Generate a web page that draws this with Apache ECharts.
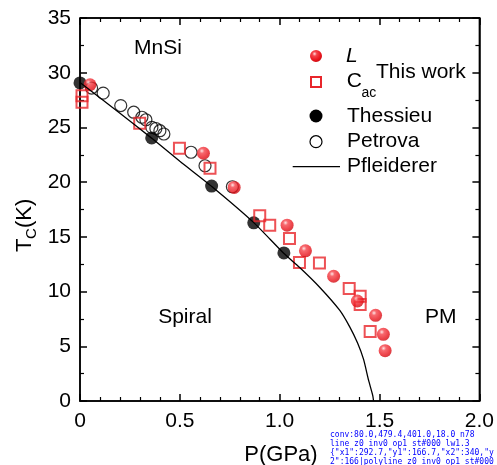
<!DOCTYPE html>
<html><head><meta charset="utf-8">
<script src="https://cdn.jsdelivr.net/npm/echarts@6/dist/echarts.min.js"></script>
<style>html,body{margin:0;padding:0;background:#fff}#c{width:497px;height:465px}#d{position:absolute;left:330px;top:430px;width:167px;font:8px monospace;color:#00f;word-wrap:break-word}</style>
</head><body><div id="c"></div><div id="d"></div>
<script>
// ---- data ----
const xTickLabels = ['0', '0.5', '1.0', '1.5', '2.0'];
const yTickLabels = ['0', '5', '10', '15', '20', '25', '30', '35'];

const L_P = [0.05, 0.618, 0.772, 1.037, 1.129, 1.27, 1.389, 1.48, 1.519, 1.528];
const L_T = [28.9, 22.64, 19.52, 16.07, 13.72, 11.4, 9.14, 7.83, 6.09, 4.6];

const Cac_P = [0.01, 0.01, 0.299, 0.498, 0.651, 0.90, 0.95, 1.049, 1.099, 1.199, 1.348, 1.403, 1.403, 1.453];
const Cac_T = [27.9, 27.3, 25.38, 23.1, 21.26, 16.92, 16.07, 14.85, 12.66, 12.62, 10.27, 9.57, 8.81, 6.36];

const Thessieu_P = [0, 0.359, 0.659, 0.87, 1.021];
const Thessieu_T = [29.07, 24.04, 19.64, 16.28, 13.53];

const Petrova_P = [0.058, 0.116, 0.204, 0.269, 0.31, 0.33, 0.36, 0.38, 0.40, 0.42, 0.556, 0.626, 0.763];
const Petrova_T = [28.6, 28.13, 27.0, 26.39, 25.93, 25.7, 25.0, 24.9, 24.7, 24.4, 22.73, 21.5, 19.58];

const Pfl_P = [0, 0.2, 0.36, 0.5, 0.66, 0.87, 1.02, 1.1, 1.2, 1.3, 1.35, 1.39, 1.42, 1.445, 1.466, 1.47];
const Pfl_T = [29.1, 26.3, 24.0, 21.9, 19.6, 16.3, 13.5, 12.2, 10.4, 8.3, 6.8, 5.3, 3.8, 1.9, 0.5, 0];

// ---- helpers ----
const zip = (a, b) => a.map((v, i) => [v, b[i]]);
const FONT = '"Liberation Sans", Arial, sans-serif';
const ballFill = () => ({
  type: 'radial', x: 0.38, y: 0.32, r: 0.75,
  colorStops: [
    { offset: 0, color: '#ffe0e0' },
    { offset: 0.25, color: '#f5434a' },
    { offset: 0.7, color: '#e8141c' },
    { offset: 1, color: '#c40a10' }
  ]
});
const RED = '#e8262b';

function axisBase(split) {
  return {
    type: 'value',
    axisLine: { show: true, onZero: false, lineStyle: { color: '#000', width: 1.5 } },
    axisTick: { show: true, inside: true, length: 7, lineStyle: { color: '#000', width: 1.5 } },
    minorTick: { show: true, splitNumber: split, length: 4, lineStyle: { color: '#000', width: 1.2 } },
    splitLine: { show: false },
    minorSplitLine: { show: false }
  };
}

const chart = echarts.init(document.getElementById('c'));

const GRID = { left: 80, right: 15, top: 18, bottom: 64 };

const baseGraphic = [
  { type: 'text', x: 158, y: 48, style: { text: 'MnSi', font: '21px ' + FONT, fill: '#000', align: 'center', verticalAlign: 'middle' } },
  { type: 'text', x: 185, y: 317, style: { text: 'Spiral', font: '21px ' + FONT, fill: '#000', align: 'center', verticalAlign: 'middle' } },
  { type: 'text', x: 425, y: 317, style: { text: 'PM', font: '21px ' + FONT, fill: '#000', align: 'left', verticalAlign: 'middle' } },
  { type: 'text', x: 281, y: 455, style: { text: 'P(GPa)', font: '22px ' + FONT, fill: '#000', align: 'center', verticalAlign: 'middle' } },
  { type: 'group', x: 25, y: 223, rotation: Math.PI / 2, children: [
    { type: 'text', x: -29, y: 0, style: { text: 'T', font: '22px ' + FONT, fill: '#000', align: 'left', verticalAlign: 'middle' } },
    { type: 'text', x: -16, y: 7, style: { text: 'C', font: '15px ' + FONT, fill: '#000', align: 'left', verticalAlign: 'middle' } },
    { type: 'text', x: -5, y: 0, style: { text: '(K)', font: '22px ' + FONT, fill: '#000', align: 'left', verticalAlign: 'middle' } }
  ] },
  { type: 'circle', shape: { cx: 316, cy: 56, r: 6 }, style: { fill: ballFill() } },
  { type: 'text', x: 346, y: 56, style: { text: 'L', font: 'italic 21px ' + FONT, fill: '#000', align: 'left', verticalAlign: 'middle' } },
  { type: 'rect', shape: { x: 311, y: 77, width: 10, height: 10 }, style: { fill: 'none', stroke: RED, lineWidth: 2 } },
  { type: 'text', x: 346.7, y: 81.7, style: { text: 'C', font: '21px ' + FONT, fill: '#000', align: 'left', verticalAlign: 'middle' } },
  { type: 'text', x: 361.5, y: 93.5, style: { text: 'ac', font: '14px ' + FONT, fill: '#000', align: 'left', verticalAlign: 'middle' } },
  { type: 'text', x: 376, y: 72.7, style: { text: 'This work', font: '21px ' + FONT, fill: '#000', align: 'left', verticalAlign: 'middle' } },
  { type: 'circle', shape: { cx: 316, cy: 116, r: 6.5 }, style: { fill: '#000' } },
  { type: 'text', x: 347, y: 116, style: { text: 'Thessieu', font: '21px ' + FONT, fill: '#000', align: 'left', verticalAlign: 'middle' } },
  { type: 'circle', shape: { cx: 316, cy: 141.7, r: 6 }, style: { fill: 'none', stroke: '#000', lineWidth: 1.2 } },
  { type: 'text', x: 347, y: 141.7, style: { text: 'Petrova', font: '21px ' + FONT, fill: '#000', align: 'left', verticalAlign: 'middle' } },
  { type: 'line', shape: { x1: 292.7, y1: 166.7, x2: 340, y2: 166.7 }, style: { stroke: '#000', lineWidth: 1.3 } },
  { type: 'text', x: 347, y: 166.7, style: { text: 'Pfleiderer', font: '21px ' + FONT, fill: '#000', align: 'left', verticalAlign: 'middle' } }
];

const option = {
  animation: false,
  backgroundColor: '#fff',
  grid: GRID,
  xAxis: [
    Object.assign(axisBase(5), {
      position: 'bottom', min: 0, max: 2, interval: 0.5,
      axisLabel: { color: '#000', fontSize: 21, fontFamily: FONT, margin: 10,
        formatter: (v) => xTickLabels[Math.round(v / 0.5)] }
    }),
    Object.assign(axisBase(5), { position: 'top', min: 0, max: 2, interval: 0.5, axisLabel: { show: false } })
  ],
  yAxis: [
    Object.assign(axisBase(2), {
      position: 'left', min: 0, max: 35, interval: 5,
      axisLabel: { color: '#000', fontSize: 21, fontFamily: FONT, margin: 9,
        formatter: (v) => yTickLabels[Math.round(v / 5)] }
    }),
    Object.assign(axisBase(2), { position: 'right', min: 0, max: 35, interval: 5, axisLabel: { show: false } })
  ],
  series: [
    { type: 'scatter', name: 'Petrova', data: zip(Petrova_P, Petrova_T), symbol: 'circle', symbolSize: 12,
      itemStyle: { color: 'none', borderColor: '#000', borderWidth: 1.2 } },
    { type: 'scatter', name: 'Thessieu', data: zip(Thessieu_P, Thessieu_T), symbol: 'circle', symbolSize: 13,
      itemStyle: { color: '#000' } },
    { type: 'line', name: 'Pfleiderer', data: zip(Pfl_P, Pfl_T), showSymbol: false, symbol: 'none', smooth: 0.2,
      lineStyle: { color: '#000', width: 1.3 } },
    { type: 'scatter', name: 'Cac', data: zip(Cac_P, Cac_T), symbol: 'rect', symbolSize: 11,
      itemStyle: { color: 'none', borderColor: RED, borderWidth: 2 } },
    { type: 'scatter', name: 'L', data: zip(L_P, L_T), symbol: 'circle', symbolSize: 13,
      itemStyle: { color: ballFill() } }
  ],
  graphic: baseGraphic
};
chart.setOption(option);

// ---- plot frame (decoration), taken from the chart's own scales, falling back to the grid box ----
const W = 497, H = 465;
let X0 = chart.convertToPixel({ xAxisIndex: 0 }, 0);
let X1 = chart.convertToPixel({ xAxisIndex: 0 }, 2);
let Y0 = chart.convertToPixel({ yAxisIndex: 0 }, 0);
let Y1 = chart.convertToPixel({ yAxisIndex: 0 }, 35);
const dbg = 'conv:' + [X0, X1, Y0, Y1].map(v => typeof v === 'number' ? v.toFixed(1) : String(v)).join(',');
if (!isFinite(X0)) X0 = GRID.left;
if (!isFinite(X1)) X1 = W - GRID.right;
if (!isFinite(Y0)) Y0 = H - GRID.bottom;
if (!isFinite(Y1)) Y1 = GRID.top;
const frame = [
  { type: 'polyline', shape: { points: [[X0, Y1], [X1, Y1], [X1, Y0], [X0, Y0], [X0, Y1]] },
    style: { fill: 'none', stroke: '#000', lineWidth: 1.5 } }
];
chart.setOption({ graphic: baseGraphic.concat(frame) });

setTimeout(function () {
  try {
    const list = chart.getZr().storage.getDisplayList(true);
    const lines = list.filter(e => e.type === 'line' || e.type === 'polyline');
    const s = lines.slice(0, 3).map(e => e.type + ' z' + e.z + ' inv' + (e.invisible ? 1 : 0) + ' op' + (e.style && e.style.opacity) + ' st' + (e.style && e.style.stroke) + ' lw' + (e.style && e.style.lineWidth) + ' ' + JSON.stringify(e.shape).slice(0, 40)).join('|');
    document.getElementById('d').textContent = dbg + ' n' + lines.length + ' ' + s;
  } catch (e) { document.getElementById('d').textContent = dbg + ' E' + e.message; }
}, 50);
</script>
</body></html>
